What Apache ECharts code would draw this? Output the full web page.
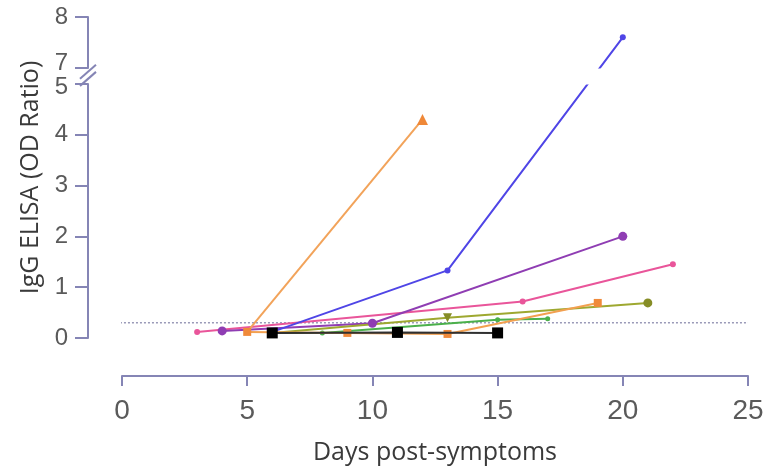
<!DOCTYPE html>
<html>
<head>
<meta charset="utf-8">
<script src="https://cdn.jsdelivr.net/npm/echarts@6/dist/echarts.min.js"></script>
<style>html,body{margin:0;padding:0;background:#fff}#c{width:774px;height:469px}</style>
</head>
<body>
<div id="c"></div>
<script>
// ---- data ----
const xTicks = [0, 5, 10, 15, 20, 25];
const yTicks = [0, 1, 2, 3, 4, 5, 7, 8];
const yBreak = [5, 7];
const threshold = 0.3;

const pinkX = [3, 16, 22];          const pinkY = [0.12, 0.72, 1.45];
const purpleX = [4, 10, 20];        const purpleY = [0.14, 0.29, 2.0];
const orangeTriX = [5, 12];         const orangeTriY = [0.12, 4.3];
const orangeSqX = [5, 9, 13, 19];   const orangeSqY = [0.12, 0.10, 0.08, 0.69];
const blueX = [6, 13, 20];          const blueY = [0.12, 1.33, 7.6];
const blackX = [6, 11, 15];         const blackY = [0.10, 0.11, 0.10];
const oliveX = [6, 13, 21];         const oliveY = [0.10, 0.40, 0.69];
const greenX = [6, 8, 15, 17];      const greenY = [0.10, 0.10, 0.36, 0.38];

const zip = (xs, ys) => xs.map((x, i) => [x, ys[i]]);

const axisColor = '#8585b5';
const labelFont = "'Liberation Sans',Arial,sans-serif";
const titleFont = "'Open Sans',sans-serif";
const Y_OFFSET = 34;

function lineSeries(name, xs, ys, color, symbol, size, extra) {
  return Object.assign({
    name, type: 'line', data: zip(xs, ys),
    symbol, symbolSize: size,
    lineStyle: { color, width: 2 },
    itemStyle: { color },
    z: 3
  }, extra || {});
}

const chart = echarts.init(document.getElementById('c'), null, { renderer: 'canvas' });
chart.setOption({
  animation: false,
  grid: { left: 122, right: 26, top: 17, bottom: 131, containLabel: false, outerBoundsMode: 'none' },
  xAxis: {
    type: 'value', min: xTicks[0], max: xTicks[xTicks.length - 1], interval: 5,
    offset: 38,
    axisLine: { show: true, onZero: false, lineStyle: { color: axisColor, width: 2 } },
    axisTick: { show: true, length: 10, inside: false, lineStyle: { color: axisColor, width: 2 } },
    axisLabel: { color: '#5a5a5a', fontSize: 28, fontFamily: labelFont, margin: 21 },
    splitLine: { show: false },
    name: 'Days post-symptoms', nameLocation: 'middle', nameGap: 64,
    nameTextStyle: { color: '#3a3a3a', fontSize: 25, fontFamily: titleFont }
  },
  yAxis: {
    type: 'value', min: 0, max: 8, interval: 1,
    offset: Y_OFFSET,
    breaks: [{ start: yBreak[0], end: yBreak[1], gap: '5%' }],
    breakArea: {
      show: true,
      itemStyle: { color: '#fff', borderColor: '#fff', borderWidth: 0, opacity: 1 },
      zigzagAmplitude: 0,
      expandOnClick: false
    },
    breakLabelLayout: { moveOverlap: 'auto' },
    axisLine: { show: true, onZero: false, lineStyle: { color: axisColor, width: 2 } },
    axisTick: { show: true, length: 13, inside: false, lineStyle: { color: axisColor, width: 2 } },
    axisLabel: {
      color: '#5a5a5a', fontSize: 24, fontFamily: labelFont, margin: 20,
      formatter: v => (yTicks.indexOf(Math.round(v * 1000) / 1000) >= 0 ? String(Math.round(v)) : '')
    },
    splitLine: { show: false },
    name: 'IgG ELISA (OD Ratio)', nameLocation: 'middle', nameGap: 42, nameRotate: 90,
    nameTextStyle: { color: '#3a3a3a', fontSize: 25, fontFamily: titleFont }
  },
  series: [
    {
      name: 'threshold', type: 'line', data: [[-1.2, threshold], [25, threshold]],
      symbol: 'none', clip: false, silent: true,
      lineStyle: { color: '#9a9ab8', width: 1.5, type: [2, 2] }, z: 1
    },
    lineSeries('pink', pinkX, pinkY, '#e9559a', 'circle', 6),
    lineSeries('purple', purpleX, purpleY, '#8f3db3', 'circle', 9),
    lineSeries('orangeTri', orangeTriX, orangeTriY, '#f2a35a', 'triangle', 11, {
      symbolSize: (v, p) => (p.dataIndex === orangeTriX.length - 1 ? 11 : 0),
      itemStyle: { color: '#ef8838' }
    }),
    lineSeries('orangeSq', orangeSqX, orangeSqY, '#f2a050', 'rect', 8, { itemStyle: { color: '#f08a3a' }, z: 4 }),
    lineSeries('green', greenX, greenY, '#4bb04b', 'circle', 5),
    lineSeries('olive', oliveX, oliveY, '#9ea830', 'triangle', 9, {
      symbol: (v, p) => (p.dataIndex === oliveX.length - 1 ? 'circle' : 'triangle'),
      symbolRotate: 180, itemStyle: { color: '#868d26' }
    }),
    lineSeries('blue', blueX, blueY, '#4f45e6', 'circle', 6),
    lineSeries('black', blackX, blackY, '#303030', 'rect', 11, { itemStyle: { color: '#000' }, lineStyle: { color: '#303030', width: 2 }, z: 5 })
  ]
});

// break slashes on the y axis line, placed through the axis scale
const p5 = chart.convertToPixel({ gridIndex: 0 }, [0, yBreak[0]]);
const p7 = chart.convertToPixel({ gridIndex: 0 }, [0, yBreak[1]]);
const ax = p5[0] - Y_OFFSET;
const slash = (cy) => ({
  type: 'line', shape: { x1: ax - 8, y1: cy + 7, x2: ax + 8, y2: cy - 7 },
  style: { stroke: axisColor, lineWidth: 2 }, z: 10
});
chart.setOption({ graphic: [slash(p5[1] - 5), slash(p7[1] + 4)] });
</script>
</body>
</html>
